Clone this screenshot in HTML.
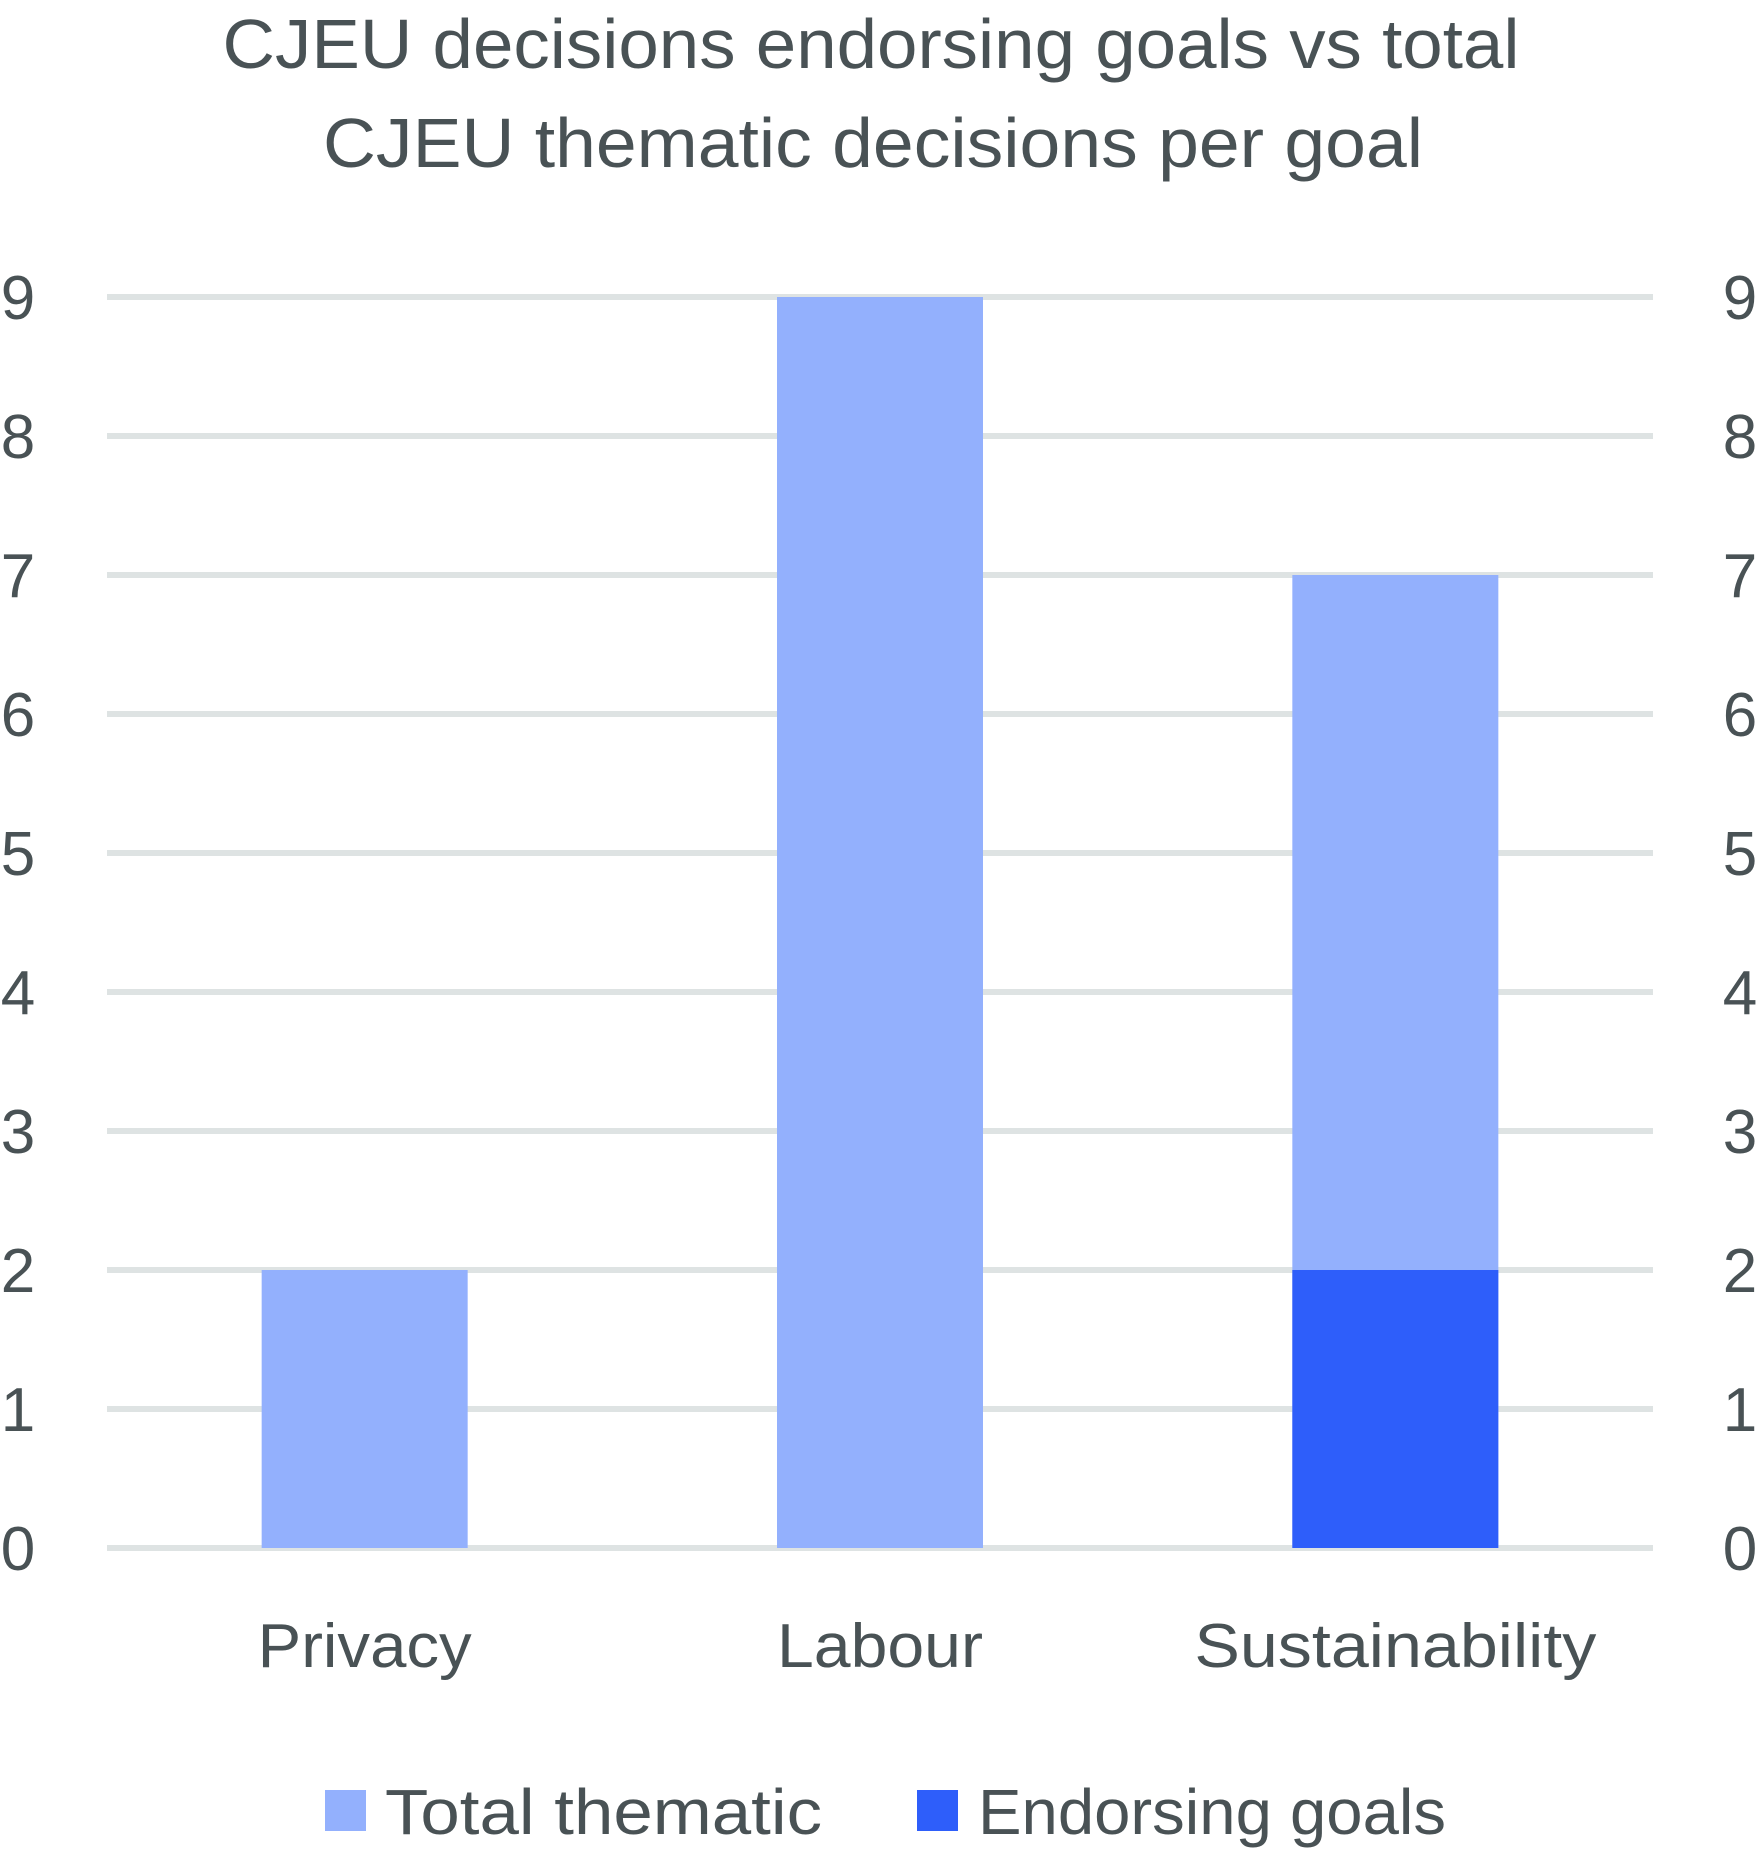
<!DOCTYPE html>
<html><head><meta charset="utf-8"><style>
html,body{margin:0;padding:0;background:#fff;}
svg{display:block;font-family:"Liberation Sans",sans-serif;}
</style></head><body>
<svg id="chart" width="1761" height="1857" viewBox="0 0 1761 1857" xmlns="http://www.w3.org/2000/svg">
<g fill="#495255" font-size="70" text-anchor="middle">
<text x="871" y="68" textLength="1297" lengthAdjust="spacingAndGlyphs">CJEU decisions endorsing goals vs total</text>
<text x="873" y="167" textLength="1100" lengthAdjust="spacingAndGlyphs">CJEU thematic decisions per goal</text>
</g>
<g id="grid"></g>
<g id="ylabels"></g>
<g id="bars"></g>
<g id="xlabels"></g>
<g>
<rect x="325" y="1790" width="41" height="41" fill="#93B0FD"/>
<text x="385" y="1834" font-size="64" fill="#495255" textLength="437" lengthAdjust="spacingAndGlyphs">Total thematic</text>
<rect x="917" y="1790" width="41" height="41" fill="#2E5EFA"/>
<text x="978" y="1834" font-size="64" fill="#495255" textLength="468" lengthAdjust="spacingAndGlyphs">Endorsing goals</text>
</g>
</svg>
<script>
const categories = ["Privacy", "Labour", "Sustainability"];
const totalThematic = [2, 9, 7];
const endorsingGoals = [0, 0, 2];
const yTicks = [0, 1, 2, 3, 4, 5, 6, 7, 8, 9];
const catLabelWidths = [214, 206, 402];

const NS = "http://www.w3.org/2000/svg";
const plotL = 107, plotR = 1653, y0 = 1548, step = 139;
const band = (plotR - plotL) / categories.length;
const barW = 206;
function yScale(v){ return y0 - v * step; }
function xCenter(i){ return plotL + band * (i + 0.5); }
function mk(tag, attrs, parent){ const e = document.createElementNS(NS, tag); for (const k in attrs) e.setAttribute(k, attrs[k]); parent.appendChild(e); return e; }

const grid = document.getElementById('grid');
const yl = document.getElementById('ylabels');
yTicks.forEach(t => {
  const l = mk('rect', {x: plotL, y: yScale(t) - 3, width: plotR - plotL, height: 6, fill: '#DEE3E3'}, grid);
  
  
  const a = mk('text', {x: 18, y: yScale(t) + 22, 'font-size': 62, fill: '#495255', 'text-anchor': 'middle'}, yl);
  a.textContent = t;
  
  
  const b = mk('text', {x: 1740, y: yScale(t) + 22, 'font-size': 62, fill: '#495255', 'text-anchor': 'middle'}, yl);
  b.textContent = t;
  
  
});

const bars = document.getElementById('bars');
const xl = document.getElementById('xlabels');
categories.forEach((c, i) => {
  const cx = xCenter(i);
  const r = mk('rect', {x: cx - barW/2, y: yScale(totalThematic[i]), width: barW, height: yScale(0) - yScale(totalThematic[i]), fill: '#93B0FD'}, bars);
  
  
  if (endorsingGoals[i] > 0) {
    const e = mk('rect', {x: cx - barW/2, y: yScale(endorsingGoals[i]), width: barW, height: yScale(0) - yScale(endorsingGoals[i]), fill: '#2E5EFA'}, bars);
    
    
  }
  const t = mk('text', {x: cx, y: 1667, 'font-size': 62, fill: '#495255', 'text-anchor': 'middle', textLength: catLabelWidths[i], lengthAdjust: 'spacingAndGlyphs'}, xl);
  t.textContent = c;
  
  
});
</script>
</body></html>
